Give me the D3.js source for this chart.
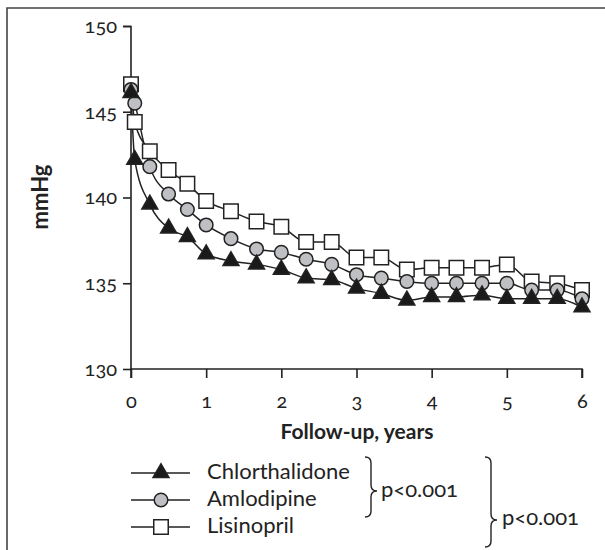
<!DOCTYPE html>
<html><head><meta charset="utf-8">
<script src="https://cdn.jsdelivr.net/npm/d3@7"></script>
<style>
body{margin:0;background:#fff;}
text{font-family:Lato,"Open Sans",sans-serif;font-feature-settings:"onum" 1;fill:#222;}
</style></head>
<body><svg id="c" width="605" height="550"></svg>
<script>
const years = [0, 0.05, 0.25, 0.5, 0.75, 1, 1.33, 1.67, 2, 2.33, 2.67, 3, 3.33, 3.67, 4, 4.33, 4.67, 5, 5.33, 5.67, 6];
const chlorthalidone = [146.1, 142.2, 139.6, 138.2, 137.7, 136.7, 136.3, 136.1, 135.8, 135.3, 135.2, 134.7, 134.4, 134.0, 134.2, 134.2, 134.3, 134.1, 134.1, 134.1, 133.6];
const amlodipine = [146.3, 145.5, 141.8, 140.2, 139.3, 138.4, 137.6, 137.0, 136.8, 136.4, 136.1, 135.5, 135.3, 135.1, 135.0, 135.0, 135.0, 135.0, 134.6, 134.6, 134.1];
const lisinopril = [146.6, 144.4, 142.7, 141.6, 140.8, 139.8, 139.2, 138.6, 138.3, 137.4, 137.4, 136.5, 136.5, 135.8, 135.9, 135.9, 135.9, 136.1, 135.1, 135.0, 134.6];
const xTicks = [0, 1, 2, 3, 4, 5, 6];
const yTicks = [130, 135, 140, 145, 150];
const seriesNames = ["Chlorthalidone", "Amlodipine", "Lisinopril"];
const pText = ["p<0.001", "p<0.001"];

const svg = d3.select("#c");
const ink = "#222";
// frame (top & left)
svg.append("path").attr("d","M7,550 L7,8 L605,8").attr("fill","none").attr("stroke","#444").attr("stroke-width",1.6);

const x = d3.scaleLinear().domain([0,6]).range([131,582]);
const y = d3.scaleLinear().domain([130,150]).range([369,26]);

const ya = svg.append("g").attr("transform","translate(131,0)")
  .call(d3.axisLeft(y).tickValues(yTicks).tickFormat(d3.format("d")).tickSize(8).tickPadding(6));
const xa = svg.append("g").attr("transform","translate(0,369)")
  .call(d3.axisBottom(x).tickValues(xTicks).tickFormat(d3.format("d")).tickSize(9));
[ya,xa].forEach(a=>{
  a.attr("font-size",null).attr("font-family",null);
  a.select(".domain").attr("stroke",ink).attr("stroke-width",1.6);
  a.selectAll(".tick line").attr("stroke",ink).attr("stroke-width",1.6);
  a.selectAll(".tick text").style("font-size","20px").attr("fill",ink);
});
xa.selectAll(".tick text").attr("y",39).attr("dy",null);
ya.select(".domain").attr("d","M-8,26.5H0V369");
xa.select(".domain").attr("d","M131,9V0H582V9");

svg.append("text").attr("transform","translate(48,197) rotate(-90)").attr("text-anchor","middle")
  .style("font-size","22px").attr("font-weight","bold").text("mmHg");
svg.append("text").attr("x",357).attr("y",439).attr("text-anchor","middle")
  .style("font-size","21px").attr("font-weight","bold").text("Follow-up, years");

const defs = [
  {vals: lisinopril, sym: d3.symbolSquare, size: 210, fill: "#fff"},
  {vals: amlodipine, sym: d3.symbolCircle, size: 145, fill: "#bfc0c3"},
  {vals: chlorthalidone, sym: d3.symbolTriangle, size: 110, fill: "#1a1a1a"}
];
const line = d3.line().x(d=>x(d[0])).y(d=>y(d[1])).curve(d3.curveMonotoneX);
defs.forEach(s=>{
  const pts = years.map((t,i)=>[t, s.vals[i]]);
  svg.append("path").attr("d", line(pts)).attr("fill","none").attr("stroke",ink).attr("stroke-width",1.5);
});
defs.forEach(s=>{
  const pts = years.map((t,i)=>[t, s.vals[i]]);
  svg.append("g").selectAll("path").data(pts).join("path")
    .attr("transform", d=>`translate(${x(d[0])},${y(d[1])})`)
    .attr("d", d3.symbol().type(s.sym).size(s.size)())
    .attr("fill", s.fill).attr("stroke", ink).attr("stroke-width",1.5);
});

// legend
const legendDefs = [defs[2], defs[1], defs[0]];
const ly = [473, 500, 527];
legendDefs.forEach((s,i)=>{
  svg.append("line").attr("x1",131).attr("x2",190).attr("y1",ly[i]).attr("y2",ly[i]).attr("stroke",ink).attr("stroke-width",1.5);
  svg.append("path").attr("transform",`translate(161,${ly[i]})`)
    .attr("d", d3.symbol().type(s.sym).size(s.size)())
    .attr("fill", s.fill).attr("stroke", ink).attr("stroke-width",1.5);
  svg.append("text").attr("x",207).attr("y",ly[i]+6).style("font-size","22px").text(seriesNames[i]);
});

function brace(x0,w,y0,y1,ym){
  const r=6, xm=x0+w/2;
  return `M${x0},${y0} Q${xm},${y0} ${xm},${y0+r} L${xm},${ym-r} Q${xm},${ym} ${x0+w},${ym} Q${xm},${ym} ${xm},${ym+r} L${xm},${y1-r} Q${xm},${y1} ${x0},${y1}`;
}
svg.append("path").attr("d",brace(365,12,457,517,491)).attr("fill","none").attr("stroke",ink).attr("stroke-width",1.4);
svg.append("path").attr("d",brace(485,12,457,547,520)).attr("fill","none").attr("stroke",ink).attr("stroke-width",1.4);
svg.append("text").attr("x",381).attr("y",497).style("font-size","22px").text(pText[0]);
svg.append("text").attr("x",502).attr("y",525).style("font-size","22px").text(pText[1]);
</script></body></html>
